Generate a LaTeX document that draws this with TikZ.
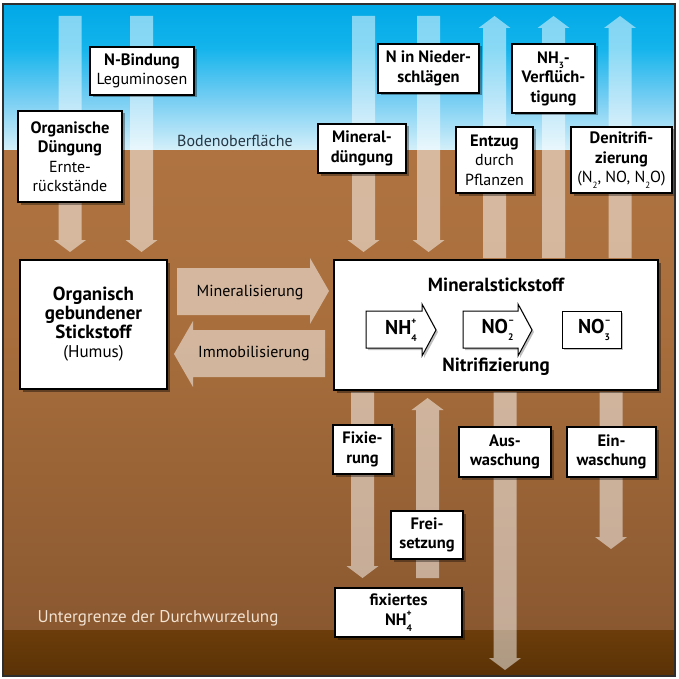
\documentclass[tikz,border=0pt]{standalone}
\usepackage{fontspec}
\setmainfont{PT Sans}
\usetikzlibrary{shadows}
\definecolor{skyA}{HTML}{00A8E6}
\definecolor{skyB}{HTML}{14B4EC}
\definecolor{skyC}{HTML}{7ACFF3}
\definecolor{skyD}{HTML}{D6F0FA}
\definecolor{soilA}{HTML}{AE7340}
\definecolor{soilB}{HTML}{A86E3C}
\definecolor{soilC}{HTML}{8A5830}
\definecolor{deepA}{HTML}{6C3D0A}
\definecolor{deepB}{HTML}{5A3206}
\definecolor{framecol}{HTML}{2E2E2E}
\definecolor{surftext}{HTML}{263642}
\definecolor{deeptext}{HTML}{F2E2D2}
\pgfdeclareverticalshading{skyshade}{100bp}{color(0bp)=(skyD); color(25bp)=(skyD); color(42bp)=(skyC); color(60bp)=(skyB); color(75bp)=(skyA); color(100bp)=(skyA)}
\pgfdeclareverticalshading{soilshade}{100bp}{color(0bp)=(soilC); color(25bp)=(soilC); color(56bp)=(soilB); color(75bp)=(soilA); color(100bp)=(soilA)}
\newcommand\ionx[2]{\makebox[0pt][l]{\raisebox{0.5em}{\fontsize{9.5}{9.5}\selectfont #1}}\raisebox{-0.35em}{\fontsize{9.5}{9.5}\selectfont #2}}
\newcommand\subx[1]{\raisebox{-0.35em}{\fontsize{9}{9}\selectfont #1}}
\newcommand\arrowdown[3]{\fill[flowfill] (#1-11.5,#2) -- (#1+11.5,#2) -- (#1+11.5,#3-12) -- (#1+16,#3-12) -- (#1,#3) -- (#1-16,#3-12) -- (#1-11.5,#3-12) -- cycle;}
\newcommand\arrowup[3]{\fill[flowfill] (#1-11.5,#2) -- (#1+11.5,#2) -- (#1+11.5,#3+12) -- (#1+16,#3+12) -- (#1,#3) -- (#1-16,#3+12) -- (#1-11.5,#3+12) -- cycle;}
\newcommand\bx[1]{{\fontsize{16.5}{19.5}\selectfont\bfseries #1}}
\newcommand\bigb[1]{{\fontsize{19}{19}\selectfont\bfseries #1}}
\begin{document}
\begin{tikzpicture}[x=1pt,y=-1pt,
  flowfill/.style={fill=white,fill opacity=0.5},
  txt/.style={font=\fontsize{16}{19.5}\selectfont, inner sep=0pt, align=center},
  labelbox/.style={draw=black, line width=1.1pt, fill=white, inner sep=1pt, align=center,
    font=\fontsize{16}{19.5}\selectfont,
    drop shadow={shadow xshift=2.5pt, shadow yshift=-2.5pt, fill=black, opacity=0.35}},
  mainbox/.style={draw=black, line width=2.6pt, fill=white, inner sep=2pt, align=center,
    font=\fontsize{17}{19}\selectfont,
    drop shadow={shadow xshift=3pt, shadow yshift=-3pt, fill=black, opacity=0.4}},
  ionbox/.style={draw=black, line width=1pt, fill=white,
    drop shadow={shadow xshift=2pt, shadow yshift=-2pt, fill=black, opacity=0.25}}]
\useasboundingbox (0,0) rectangle (678,679);
\fill[white] (0,0) rectangle (678,679);
% background
\shade[shading=skyshade] (3,4) rectangle (675,151);
\shade[shading=soilshade] (3,151) rectangle (675,630);
\shade[top color=deepA, bottom color=deepB] (3,630) rectangle (675,676);
\node[txt, text=surftext] (surf) at (235,141) {Bodenoberfläche};
\node[txt, text=deeptext, font=\fontsize{17}{19}\selectfont] (root) at (158,618) {Untergrenze der Durchwurzelung};
% vertical flows
\arrowdown{70}{16}{252}
\arrowdown{141.5}{16}{252}
\arrowdown{363.5}{16}{252}
\arrowdown{428.5}{16}{252}
\arrowup{494.5}{258}{16}
\arrowup{553.5}{258}{16}
\arrowup{620}{258}{16}
\arrowdown{362.5}{392}{578}
\arrowup{427.5}{578}{398}
\arrowdown{505}{392}{670}
\arrowdown{611}{392}{549}
% horizontal flows
\fill[flowfill] (177,268) -- (310,268) -- (310,258) -- (329,291) -- (310,324) -- (310,315) -- (177,315) -- cycle;
\fill[flowfill] (325,330) -- (193,330) -- (193,321) -- (174,354) -- (193,387) -- (193,377) -- (325,377) -- cycle;
\node[txt] (minz) at (250,293) {Mineralisierung};
\node[txt] (immo) at (254,354) {Immobilisierung};
% main boxes
\node[mainbox, minimum width=147, minimum height=129] (org) at (93.5,324.5)
  {\bigb{Organisch}\\\bigb{gebundener}\\\bigb{Stickstoff}\\(Humus)};
\node[mainbox, minimum width=324, minimum height=130] (min) at (496,325) {};
\node[txt] (minT) at (496,285) {\bigb{Mineralstickstoff}};
\node[txt] (nitT) at (496,367) {\bigb{Nitrifizierung}};
\draw[ionbox] (366,311) -- (422,311) -- (422,304) -- (436,330) -- (422,356) -- (422,348) -- (366,348) -- cycle;
\draw[ionbox] (463,311) -- (518,311) -- (518,304) -- (532,330) -- (518,356) -- (518,348) -- (463,348) -- cycle;
\node[ionbox, minimum width=59, minimum height=37] (no3box) at (591.5,329.5) {};
\node[txt, font=\fontsize{20}{20}\selectfont\bfseries] (nh4) at (401,330) {NH\ionx{+}{4}};
\node[txt, font=\fontsize{20}{20}\selectfont\bfseries] (no2) at (497.5,330) {NO\ionx{–}{2}};
\node[txt, font=\fontsize{20}{20}\selectfont\bfseries] (no3) at (594,330) {NO\ionx{–}{3}};
% label boxes
\node[labelbox, minimum width=104, minimum height=48] (nbind) at (142,71)
  {\bx{N-Bindung}\\Leguminosen};
\node[labelbox, minimum width=104, minimum height=91] (orgd) at (70,156.5)
  {\bx{Organische}\\\bx{Düngung}\\Ernte-\\rückstände};
\node[labelbox, minimum width=88, minimum height=49] (mind) at (362,148.5)
  {\bx{Mineral-}\\\bx{düngung}};
\node[labelbox, minimum width=101, minimum height=49] (nied) at (428.5,68.5)
  {\bx{N in Nieder-}\\\bx{schlägen}};
\node[labelbox, minimum width=83, minimum height=69] (nh3) at (553.5,78.5)
  {\bx{NH\subx{3}-}\\\bx{Verflüch-}\\\bx{tigung}};
\node[labelbox, minimum width=77, minimum height=66] (entz) at (494.5,160)
  {\bx{Entzug}\\durch\\Pflanzen};
\node[labelbox, minimum width=101, minimum height=66] (deni) at (621.5,160)
  {\bx{Denitrifi-}\\\bx{zierung}\\(N\subx{2}, NO, N\subx{2}O)};
\node[labelbox, minimum width=59, minimum height=49] (fix) at (362.5,449.5)
  {\bx{Fixie-}\\\bx{rung}};
\node[labelbox, minimum width=72, minimum height=48] (frei) at (427,535)
  {\bx{Frei-}\\\bx{setzung}};
\node[labelbox, minimum width=92, minimum height=50] (ausw) at (505,452)
  {\bx{Aus-}\\\bx{waschung}};
\node[labelbox, minimum width=89, minimum height=50] (einw) at (611.5,452)
  {\bx{Ein-}\\\bx{waschung}};
\node[labelbox, minimum width=127, minimum height=49] (fixnh4) at (398.5,612.5)
  {\bx{fixiertes}\\\bx{NH\ionx{+}{4}}};
% frame
\draw[framecol, line width=1.5pt] (3,4) rectangle (675,676);
\end{tikzpicture}
\end{document}
